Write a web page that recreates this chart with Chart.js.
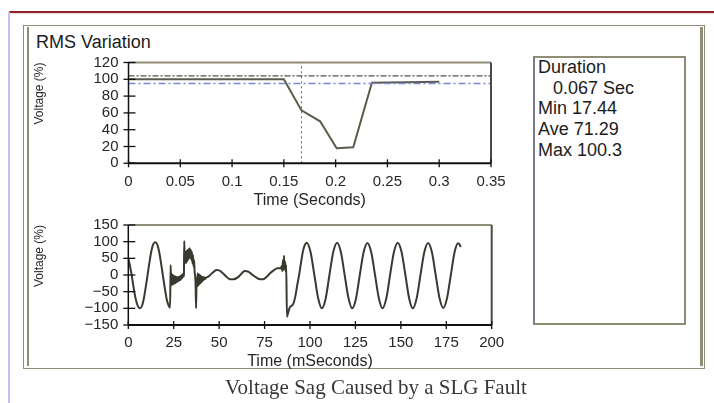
<!DOCTYPE html>
<html>
<head>
<meta charset="utf-8">
<title>RMS Variation</title>
<script src="https://cdn.jsdelivr.net/npm/chart.js@4.4.1/dist/chart.umd.min.js"></script>
<style>
  html, body { margin: 0; padding: 0; background: #fff; }
  #page { position: relative; width: 714px; height: 403px; overflow: hidden; font-family: "Liberation Sans", Arial, sans-serif; }
  #page canvas { position: absolute; left: 0; top: 0; }
  .topRule { position: absolute; left: 9px; top: 11px; width: 705px; height: 2px; background: #8e2323; border-bottom: 1px solid #f3dbe6; }
  .sideRule { position: absolute; left: 8px; top: 12px; width: 2px; height: 391px; background: #cdbcf6; }
  .frame { position: absolute; left: 23px; top: 25px; width: 680px; height: 342px; border: 1.5px solid #8f8d75; }
  .frameInner { position: absolute; top: 27px; width: 1.5px; height: 339px; background: #8f8d75; }
  .title { position: absolute; left: 36px; top: 33px; font-size: 18px; line-height: 18px; color: #1c1c1c; }
  .stats { position: absolute; left: 533px; top: 56px; width: 149px; height: 265px; border: 2px solid #8f8d75; border-left-color: #7d7b8f; }
  .statsText { position: absolute; left: 538px; top: 57px; font-size: 18px; line-height: 20.7px; color: #1c1c1c; white-space: pre; }
  .caption { position: absolute; left: 0; width: 752px; top: 375px; text-align: center; font-family: "Liberation Serif", "Times New Roman", serif; font-size: 21px; color: #383838; }
</style>
</head>
<body>
<div id="page">
  <div class="topRule"></div>
  <div class="sideRule"></div>
  <div class="frame"></div>
  <div class="frameInner" style="left:27px"></div>
  <div class="frameInner" style="left:700px; width:2.5px"></div>
  <div class="title">RMS Variation</div>
  <div class="stats"></div>
  <div class="statsText" id="statsText"></div>
  <canvas id="rmsChart" width="714" height="403"></canvas>
  <canvas id="waveChart" width="714" height="403"></canvas>
  <div class="caption">Voltage Sag Caused by a SLG Fault</div>
</div>
<script>
// RMS voltage (%) against time (s)
const rmsTime  = [0, 0.150, 0.167, 0.185, 0.201, 0.217, 0.235, 0.300];
const rmsValue = [100, 100, 63, 50, 18, 19, 96, 97];
const upperLimit = 104;
const lowerLimit = 95;
const eventTime = 0.167;

// instantaneous voltage (%) against time (ms)
const waveTime = [
  0, 1, 2, 3, 4, 5, 6.4, 7.5, 8.5, 9.5, 10.6, 11.7, 12.7, 13.7, 14.8, 15.9, 16.9, 17.9, 19, 20.1, 21.1, 22.2, 23,
  23.3, 23.5, 23.8, 24.1, 24.4, 24.7, 25.0, 25.3, 25.6, 25.9, 26.2, 26.5, 26.8, 27.1, 27.4, 27.7, 28.0, 28.3, 28.6, 28.9, 29.2, 29.5, 29.8, 30.2, 30.6,
  30.8, 31.1, 31.4, 31.7, 32.0, 32.3, 32.6, 32.9, 33.2, 33.5, 33.8, 34.1, 34.4, 34.7, 35.0, 35.3, 35.6, 35.9, 36.2, 36.5, 37.0,
  37.3, 37.6, 37.9, 38.2, 38.5, 38.8, 39.1, 39.4, 39.7, 40.0, 40.3, 40.6, 40.9, 41.2, 41.5, 41.8, 42.2, 42.8,
  44, 46, 48.6, 50, 52, 54, 56, 58, 60, 62, 64, 66, 68, 70, 72, 74, 76, 78, 80, 82, 84,
  84.5, 84.8, 85.1, 85.4, 85.7, 86.0, 86.3, 86.6, 86.9,
  87.3, 88.0, 89.0, 90.0, 91.0, 92.0, 93.0, 94.0, 95.0, 96.0, 97.0,
  98.2, 100.3, 102.4, 104.5, 106.5, 108.6, 110.7, 112.8,
  114.9, 117.0, 119.1, 121.2, 123.2, 125.3, 127.4, 129.5,
  131.6, 133.7, 135.8, 137.9, 139.9, 142.0, 144.1, 146.2,
  148.3, 150.4, 152.5, 154.6, 156.6, 158.7, 160.8, 162.9,
  165.0, 167.1, 169.2, 171.3, 173.3, 175.4, 177.5, 179.6,
  181.5, 182.5, 183.0
];
const waveValue = [
  50, 25, -5, -40, -70, -90, -100, -93, -72, -40, 0, 40, 72, 92, 98, 92, 72, 40, 0, -40, -72, -92, -98,
  30, -25, 5, -30, 0, -28, -2, -26, -4, -24, -5, -22, -6, -20, -6, -18, -5, -16, -3, -14, -1, -10, 2, -5, 0,
  102, 40, 70, 35, 72, 40, 75, 45, 78, 50, 80, 52, 75, 45, 70, 35, 60, 25, 45, 10, -20,
  -100, -10, -35, 5, -32, 2, -28, 0, -25, -3, -22, -5, -18, -6, -15, -7, -12, -8,
  -5, 5, 15, 14, 5, -5, -13, -13, -8, 2, 12, 10, 2, -6, -12, -13, -6, 5, 14, 20, 20,
  28, 12, 45, 15, 58, 18, 40, 10, 30,
  -125, -112, -96, -92, -84, -62, -30, 0, 35, 68, 88,
  97, 69, 0, -70, -100, -71, 0, 69,
  97, 69, -1, -70, -100, -71, 0, 68,
  96, 68, 0, -70, -100, -70, 1, 69,
  97, 69, 0, -71, -100, -70, 0, 68,
  96, 68, -1, -70, -99, -70, 0, 69,
  95, 90, 84
];

const rmsTimeTicks = [0, 0.05, 0.1, 0.15, 0.2, 0.25, 0.3, 0.35];
const rmsVoltTicks = [0, 20, 40, 60, 80, 100, 120];
const waveTimeTicks = [0, 25, 50, 75, 100, 125, 150, 175, 200];
const waveVoltTicks = [-150, -100, -50, 0, 50, 100, 150];

const statLines = ['Duration', '   0.067 Sec', 'Min 17.44', 'Ave 71.29', 'Max 100.3'];
document.getElementById('statsText').textContent = statLines.join('\n');

const tickFont = { family: "'Liberation Sans', Arial, sans-serif", size: 15 };
const titleFont = { family: "'Liberation Sans', Arial, sans-serif", size: 16 };
const inkColor = '#262626';

function signed(v) {
  return v < 0 ? '\u2212' + Math.abs(v) : String(v);
}

// plot box border plus tick marks that cross the axes
const boxTicks = {
  id: 'boxTicks',
  afterDraw(chart) {
    const ctx = chart.ctx;
    const { left, right, top, bottom } = chart.chartArea;
    ctx.save();
    ctx.lineWidth = 2;
    ctx.strokeStyle = '#8f8d75';
    ctx.beginPath(); ctx.moveTo(left, top); ctx.lineTo(right, top); ctx.stroke();
    ctx.strokeStyle = '#4a4a44';
    ctx.beginPath(); ctx.moveTo(right, top); ctx.lineTo(right, bottom); ctx.stroke();
    ctx.strokeStyle = '#111';
    ctx.beginPath(); ctx.moveTo(left, bottom); ctx.lineTo(right, bottom); ctx.stroke();
    ctx.lineWidth = 1.5;
    ctx.beginPath(); ctx.moveTo(left, top); ctx.lineTo(left, bottom); ctx.stroke();
    ctx.lineWidth = 1.3;
    chart.scales.x.ticks.forEach(t => {
      const px = chart.scales.x.getPixelForValue(t.value);
      ctx.beginPath(); ctx.moveTo(px, bottom - 4); ctx.lineTo(px, bottom + 4); ctx.stroke();
    });
    chart.scales.y.ticks.forEach(t => {
      const py = chart.scales.y.getPixelForValue(t.value);
      ctx.beginPath(); ctx.moveTo(left - 5, py); ctx.lineTo(left + 7, py); ctx.stroke();
    });
    ctx.restore();
  }
};

function axes(xTicks, yTicks, xTitle, xHeight, xPad) {
  return {
    x: {
      type: 'linear', min: xTicks[0], max: xTicks[xTicks.length - 1],
      afterBuildTicks: s => { s.ticks = xTicks.map(v => ({ value: v })); },
      afterFit: s => { s.height = xHeight; },
      grid: { display: false, drawTicks: false },
      border: { display: false },
      ticks: { font: tickFont, color: inkColor, padding: xPad, maxRotation: 0, autoSkip: false, callback: signed },
      title: { display: true, text: xTitle, font: titleFont, color: inkColor, padding: { top: 0, bottom: 0 } }
    },
    y: {
      type: 'linear', min: yTicks[0], max: yTicks[yTicks.length - 1],
      afterBuildTicks: s => { s.ticks = yTicks.map(v => ({ value: v })); },
      afterFit: s => { s.width = 100; },
      grid: { display: false, drawTicks: false },
      border: { display: false },
      ticks: { font: tickFont, color: inkColor, padding: 10, autoSkip: false, callback: signed },
      title: { display: true, text: 'Voltage (%)', align: 'end', font: { family: titleFont.family, size: 12 }, color: inkColor, padding: { top: 4, bottom: 0 } }
    }
  };
}

const rmsXmax = rmsTimeTicks[rmsTimeTicks.length - 1];
const rmsYmax = rmsVoltTicks[rmsVoltTicks.length - 1];

new Chart(document.getElementById('rmsChart'), {
  type: 'line',
  data: {
    datasets: [
      {
        data: [{ x: 0, y: upperLimit }, { x: rmsXmax, y: upperLimit }],
        borderColor: '#50504a', borderWidth: 1.3, borderDash: [6, 2, 2, 2], pointRadius: 0
      },
      {
        data: [{ x: 0, y: lowerLimit }, { x: rmsXmax, y: lowerLimit }],
        borderColor: '#7d84d0', borderWidth: 1.3, borderDash: [7, 3, 2, 3], pointRadius: 0
      },
      {
        data: [{ x: eventTime, y: 0 }, { x: eventTime, y: rmsYmax }],
        borderColor: '#5a5aa0', borderWidth: 1, borderDash: [2, 3], pointRadius: 0
      },
      {
        data: rmsTime.map((t, i) => ({ x: t, y: rmsValue[i] })),
        borderColor: '#5b5a4c', borderWidth: 2, pointRadius: 0, tension: 0
      }
    ]
  },
  options: {
    responsive: false,
    animation: false,
    devicePixelRatio: 1,
    layout: { padding: { left: 28.5, top: 62.5, right: 223, bottom: 192.4 } },
    plugins: { legend: { display: false }, tooltip: { enabled: false } },
    scales: axes(rmsTimeTicks, rmsVoltTicks, 'Time (Seconds)', 47.3, 10)
  },
  plugins: [boxTicks]
});

new Chart(document.getElementById('waveChart'), {
  type: 'line',
  data: {
    datasets: [{
      data: waveTime.map((t, i) => ({ x: t, y: waveValue[i] })),
      borderColor: '#3a3930', borderWidth: 2, pointRadius: 0, cubicInterpolationMode: 'monotone'
    }]
  },
  options: {
    responsive: false,
    animation: false,
    devicePixelRatio: 1,
    layout: { padding: { left: 28.3, top: 225, right: 222.3, bottom: 31.4 } },
    plugins: { legend: { display: false }, tooltip: { enabled: false } },
    scales: axes(waveTimeTicks, waveVoltTicks, 'Time (mSeconds)', 46.6, 9)
  },
  plugins: [boxTicks]
});
</script>
</body>
</html>
